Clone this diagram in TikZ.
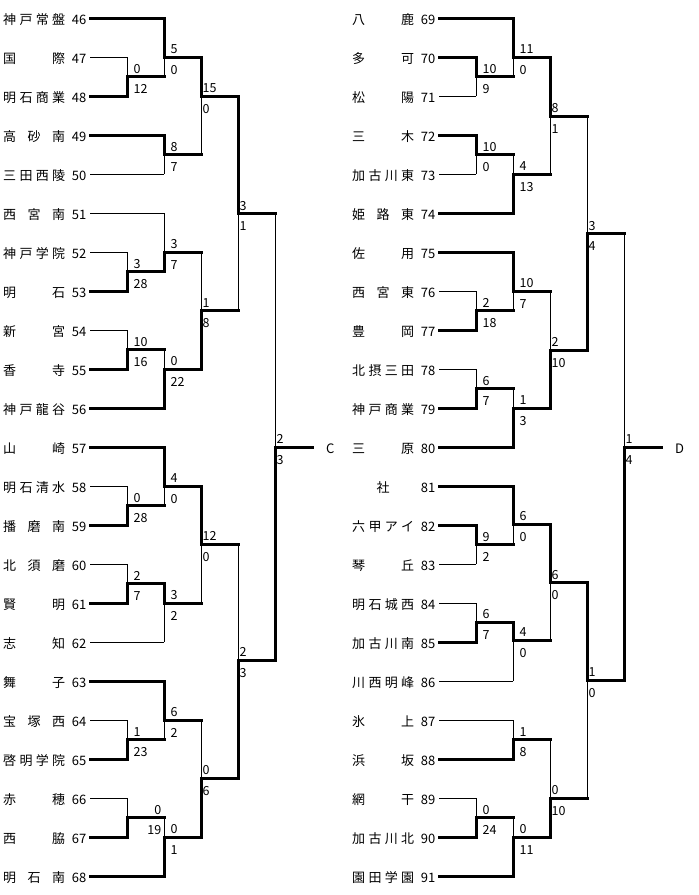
\documentclass[tikz,border=0pt]{standalone}
\usepackage{fontspec}
\setmainfont{Noto Sans CJK JP}
\tikzset{
 thk/.style={line width=3pt, line cap=rect},
 thn/.style={line width=1pt},
 sc/.style={inner sep=0pt, font=\fontsize{12.5}{12.5}\selectfont},
 tmn/.style={inner sep=0pt, font=\fontsize{13}{13}\selectfont},
}
\def\soff{6.5}
% match: id, x, xnext, ytop, ybot, yjunction, winner(t/b), top score, bottom score
\newcommand\mt[9]{%
  \coordinate (#1t) at (#2,#4);
  \coordinate (#1b) at (#2,#5);
  \coordinate (#1j) at (#2,#6);
  \coordinate (#1o) at (#3,#6);
  \if t#7
    \draw[thn] (#1b) -- (#1j);
    \draw[thk] (#1t) -- (#1j);
  \else
    \draw[thn] (#1t) -- (#1j);
    \draw[thk] (#1b) -- (#1j);
  \fi
  \draw[thk] (#1j) -- (#1o);
  \node[sc,anchor=base west] (#1u) at ([xshift=\soff pt,yshift=3.5pt]#1j) {#8};
  \node[sc,anchor=base west] (#1d) at ([xshift=\soff pt,yshift=-17pt]#1j) {#9};
}
% team: number, row y, name, x of first column, line style
\newcommand\tm[5]{%
  \node[tmn,anchor=base west] (n#1) at (3,#2+6.5) {\makebox[62pt][s]{#3}};
  \node[tmn,anchor=base east] (d#1) at (86.5,#2+6.5) {#1};
  \coordinate (s#1) at (90,#2);
  \coordinate (e#1) at (#4,#2);
  \draw[#5] (s#1) -- (e#1);
}
\begin{document}
\begin{tikzpicture}[x=1pt,y=-1pt]
\fill[white] (0,0) rectangle (699,895);
\useasboundingbox (0,0) rectangle (699,895);
% ---------------- left half ----------------
\tm{46}{18}{神\hfill 戸\hfill 常\hfill 盤}{164}{thk}
\tm{47}{57}{国\hfill 際}{127}{thn}
\tm{48}{96}{明\hfill 石\hfill 商\hfill 業}{127}{thk}
\tm{49}{135}{高\hfill 砂\hfill 南}{164}{thk}
\tm{50}{174}{三\hfill 田\hfill 西\hfill 陵}{164}{thn}
\tm{51}{213}{西\hfill 宮\hfill 南}{164}{thn}
\tm{52}{252}{神\hfill 戸\hfill 学\hfill 院}{127}{thn}
\tm{53}{291}{明\hfill 石}{127}{thk}
\tm{54}{330}{新\hfill 宮}{127}{thn}
\tm{55}{369}{香\hfill 寺}{127}{thk}
\tm{56}{408}{神\hfill 戸\hfill 龍\hfill 谷}{164}{thk}
\tm{57}{447}{山\hfill 崎}{164}{thk}
\tm{58}{486}{明\hfill 石\hfill 清\hfill 水}{127}{thn}
\tm{59}{525}{播\hfill 磨\hfill 南}{127}{thk}
\tm{60}{564}{北\hfill 須\hfill 磨}{127}{thn}
\tm{61}{603}{賢\hfill 明}{127}{thk}
\tm{62}{642}{志\hfill 知}{164}{thn}
\tm{63}{681}{舞\hfill 子}{164}{thk}
\tm{64}{720}{宝\hfill 塚\hfill 西}{127}{thn}
\tm{65}{759}{啓\hfill 明\hfill 学\hfill 院}{127}{thk}
\tm{66}{798}{赤\hfill 穂}{127}{thn}
\tm{67}{837}{西\hfill 脇}{127}{thk}
\tm{68}{876}{明\hfill 石\hfill 南}{164}{thk}
\def\soff{6.5}
\mt{M1}{127}{164}{57}{96}{76.5}{b}{0}{12}
\mt{M2}{164}{201}{18}{76.5}{57}{t}{5}{0}
\mt{M3}{164}{201}{135}{174}{154.5}{t}{8}{7}
\mt{M5}{127}{164}{252}{291}{271.5}{b}{3}{28}
\mt{M6}{164}{201}{213}{271.5}{252}{b}{3}{7}
\mt{M7}{127}{164}{330}{369}{349.5}{b}{10}{16}
\mt{M8}{164}{201}{349.5}{408}{369}{b}{0}{22}
\mt{M11}{127}{164}{486}{525}{505.5}{b}{0}{28}
\mt{M12}{164}{201}{447}{505.5}{486}{t}{4}{0}
\mt{M13}{127}{164}{564}{603}{583.5}{b}{2}{7}
\mt{M14}{164}{201}{583.5}{642}{603}{t}{3}{2}
\mt{M16}{127}{164}{720}{759}{739.5}{b}{1}{23}
\mt{M17}{164}{201}{681}{739.5}{720}{t}{6}{2}
\mt{M18}{127}{164}{798}{837}{817.5}{b}{}{}
\node[sc,anchor=base east] (M18a) at (161.5,814) {0};
\node[sc,anchor=base east] (M18c) at (161.5,834.5) {19};
\mt{M19}{164}{201}{817.5}{876}{837}{b}{0}{1}
\def\soff{1.5}
\mt{M4}{201}{238}{57}{154.5}{96}{t}{15}{0}
\mt{M9}{201}{238}{252}{369}{310.5}{b}{1}{8}
\mt{M15}{201}{238}{486}{603}{544}{t}{12}{0}
\mt{M20}{201}{238}{720}{837}{778}{b}{0}{6}
\mt{M10}{238}{275}{96}{310.5}{213.5}{t}{3}{1}
\mt{M21}{238}{275}{544}{778}{660}{b}{2}{3}
\mt{M22}{275}{312}{213.5}{660}{447}{b}{2}{3}
\node[tmn,anchor=base west] (C) at (326,453) {C};
% ---------------- right half ----------------
\begin{scope}[xshift=349pt]
\tm{69}{18}{八\hfill 鹿}{164}{thk}
\tm{70}{57}{多\hfill 可}{127}{thk}
\tm{71}{96}{松\hfill 陽}{127}{thn}
\tm{72}{135}{三\hfill 木}{127}{thk}
\tm{73}{174}{加\hfill 古\hfill 川\hfill 東}{127}{thn}
\tm{74}{213}{姫\hfill 路\hfill 東}{164}{thk}
\tm{75}{252}{佐\hfill 用}{164}{thk}
\tm{76}{291}{西\hfill 宮\hfill 東}{127}{thn}
\tm{77}{330}{豊\hfill 岡}{127}{thk}
\tm{78}{369}{北\hfill 摂\hfill 三\hfill 田}{127}{thn}
\tm{79}{408}{神\hfill 戸\hfill 商\hfill 業}{127}{thk}
\tm{80}{447}{三\hfill 原}{164}{thk}
\tm{81}{486}{\hfill 社\hfill}{164}{thk}
\tm{82}{525}{六\hfill 甲\hfill ア\hfill イ}{127}{thk}
\tm{83}{564}{琴\hfill 丘}{127}{thn}
\tm{84}{603}{明\hfill 石\hfill 城\hfill 西}{127}{thn}
\tm{85}{642}{加\hfill 古\hfill 川\hfill 南}{127}{thk}
\tm{86}{681}{川\hfill 西\hfill 明\hfill 峰}{164}{thn}
\tm{87}{720}{氷\hfill 上}{164}{thn}
\tm{88}{759}{浜\hfill 坂}{164}{thk}
\tm{89}{798}{網\hfill 干}{127}{thn}
\tm{90}{837}{加\hfill 古\hfill 川\hfill 北}{127}{thk}
\tm{91}{876}{園\hfill 田\hfill 学\hfill 園}{164}{thk}
\def\soff{6.5}
\mt{R1}{127}{164}{57}{96}{76.5}{t}{10}{9}
\mt{R2}{164}{201}{18}{76.5}{57}{t}{11}{0}
\mt{R3}{127}{164}{135}{174}{154.5}{t}{10}{0}
\mt{R4}{164}{201}{154.5}{213}{174}{b}{4}{13}
\mt{R6}{127}{164}{291}{330}{310.5}{b}{2}{18}
\mt{R7}{164}{201}{252}{310.5}{291}{t}{10}{7}
\mt{R8}{127}{164}{369}{408}{388.5}{b}{6}{7}
\mt{R9}{164}{201}{388.5}{447}{408}{b}{1}{3}
\mt{R12}{127}{164}{525}{564}{544.5}{t}{9}{2}
\mt{R13}{164}{201}{486}{544.5}{524}{t}{6}{0}
\mt{R14}{127}{164}{603}{642}{622}{b}{6}{7}
\mt{R15}{164}{201}{622}{681}{640}{t}{4}{0}
\mt{R17}{164}{201}{720}{759}{739.5}{b}{1}{8}
\mt{R18}{127}{164}{798}{837}{817.5}{b}{0}{24}
\mt{R19}{164}{201}{817.5}{876}{837}{b}{0}{11}
\def\soff{1.5}
\mt{R5}{201}{238}{57}{174}{116}{t}{8}{1}
\mt{R10}{201}{238}{291}{408}{350}{b}{2}{10}
\mt{R16}{201}{238}{524}{640}{582.5}{t}{6}{0}
\mt{R20}{201}{238}{739.5}{837}{798}{b}{0}{10}
\mt{R11}{238}{275}{116}{350}{233.5}{b}{3}{4}
\mt{R21}{238}{275}{582.5}{798}{680}{t}{1}{0}
\mt{R22}{275}{312}{233.5}{680}{447}{b}{1}{4}
\node[tmn,anchor=base west] (D) at (326,453) {D};
\end{scope}
\end{tikzpicture}
\end{document}
